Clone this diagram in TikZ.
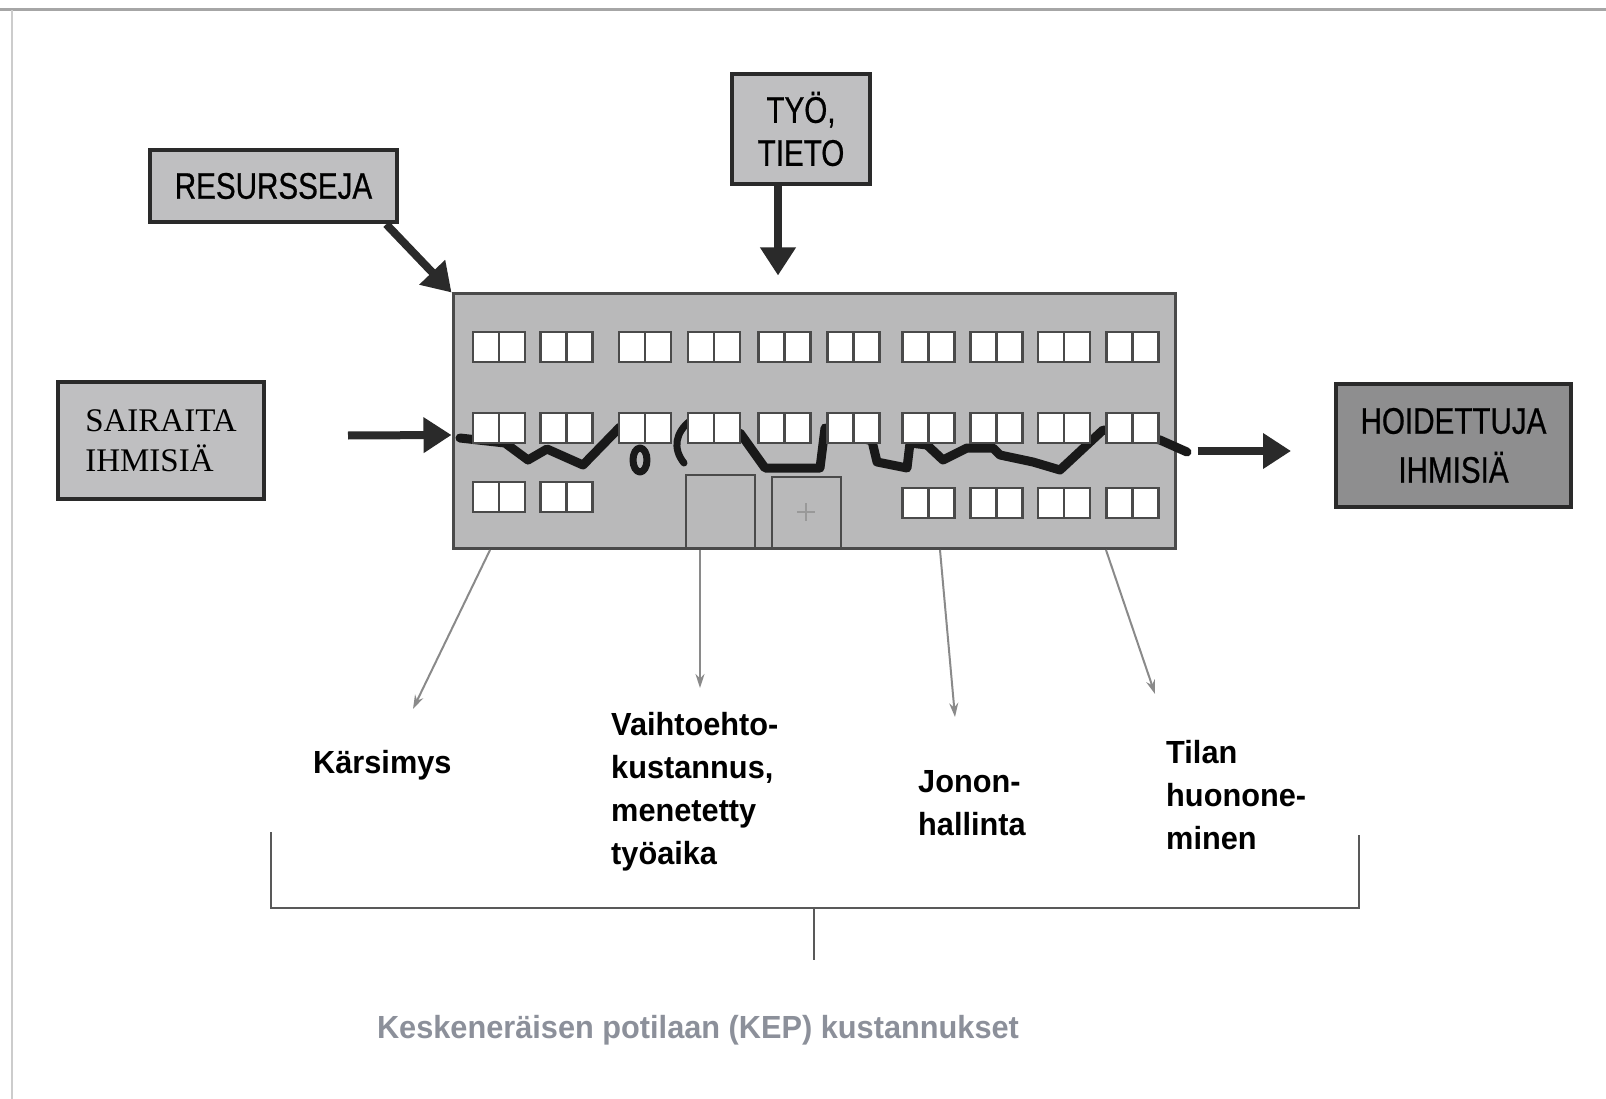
\documentclass[tikz,border=0pt]{standalone}
\usepackage{fontspec}
\usetikzlibrary{arrows.meta}
\newfontfamily\boxfont[FakeStretch=0.8,FakeBold=0.6]{Liberation Sans}
\newfontfamily\labfont[FakeStretch=0.96]{Liberation Sans}
\newfontfamily\oldfont{Liberation Serif}
\definecolor{boxgray}{HTML}{BFBFC1}
\definecolor{darkbox}{HTML}{8E8E8F}
\definecolor{wallgray}{HTML}{B9B9BA}
\definecolor{edge}{HTML}{2A2A2A}
\definecolor{wallline}{HTML}{4A4A4A}
\definecolor{thingray}{HTML}{8A8A8A}
\definecolor{notegray}{HTML}{8C909A}
\tikzset{
  inbox/.style={draw=edge, line width=4.5pt, fill=boxgray, inner sep=0pt,
    font=\boxfont\fontsize{37}{43}\selectfont, align=center},
  heavyarrow/.style={draw=edge, line width=8pt,
    -{Triangle[length=28pt,width=34pt]}},
  lightarrow/.style={draw=thingray, line width=2pt,
    -{Stealth[length=14pt,width=9pt]}},
  lab/.style={font=\labfont\bfseries\fontsize{32}{43}\selectfont, align=left,
    inner sep=0pt},
  winline/.style={draw=edge!85, line width=2.5pt},
  winpair/.pic={
    \draw[winline, fill=white] (0,0) rectangle (52,30);
    \draw[winline] (26,0) -- (26,30);
  },
  wave/.style={draw=black!90, line width=9pt, line join=round, line cap=round},
  bracket/.style={draw=black!65, line width=2pt},
}
\begin{document}
\begin{tikzpicture}[x=1pt,y=-1pt]
\useasboundingbox (0,0) rectangle (1606,1099);
% page frame
\draw[draw=black!35, line width=3pt] (0,10) -- (1606,10);
\draw[draw=black!20, line width=2pt] (12,10) -- (12,1099);

% input / output boxes
\node[inbox, minimum width=247pt, minimum height=72pt] (res) at (273.5,186) {RESURSSEJA};
\node[inbox, minimum width=138pt, minimum height=110pt] (tyo) at (801,129) {TYÖ,\\TIETO};
\node[inbox, line width=4pt, minimum width=206pt, minimum height=117pt, align=left,
  font=\oldfont\fontsize{33}{40}\selectfont] (sick) at (161,440.5) {SAIRAITA\\IHMISIÄ};
\node[inbox, fill=darkbox, line width=4pt, minimum width=235pt, minimum height=123pt,
  font=\boxfont\fontsize{37}{49}\selectfont] (cured) at (1453.5,445.5) {HOIDETTUJA\\IHMISIÄ};

% hospital building
\node[draw=wallline, line width=3pt, fill=wallgray, minimum width=722pt,
  minimum height=254pt, inner sep=0pt] (bldg) at (814,421) {};

% doors
\draw[draw=wallline, line width=2pt] (686,547) -- (686,475) -- (755,475) -- (755,547);
\draw[draw=wallline, line width=2pt] (772,548) -- (772,477) -- (841,477) -- (841,548);
\draw[draw=black!40, line width=2pt] (806,503) -- (806,521) (797,512) -- (815,512);

% patient path through the wards
\draw[wave] (460,438) -- (505,443) -- (528,460) -- (547,449) -- (583,465) -- (620,427);
\draw[wave, line width=7pt] (640,460) ellipse [x radius=7, y radius=12];
\draw[wave, line width=7pt] (690,421) .. controls (676,432) and (672,448) .. (684,463);
\draw[wave] (700,430) -- (740,433) -- (765,468) -- (820,468) -- (825,428)
  -- (872,441) -- (877,462) -- (907,468) -- (910,443) -- (927,445) -- (943,460)
  -- (967,448) -- (993,448) -- (1000,455) -- (1033,462) -- (1060,470)
  -- (1103,430) -- (1160,440) -- (1187,452);

% windows
\foreach \c in {473,540.5,619,688,758.5,827.5,902.5,970.5,1038,1106.5} {
  \pic at (\c,332) {winpair};
  \pic at (\c,413) {winpair};
}
\foreach \c in {473,540.5} { \pic at (\c,482) {winpair}; }
\foreach \c in {902.5,970.5,1038,1106.5} { \pic at (\c,488) {winpair}; }

% flows into and out of the building
\draw[heavyarrow] ([xshift=-13pt]res.south east) -- (bldg.north west);
\draw[heavyarrow] ([xshift=-23pt]tyo.south) -- ([xshift=-36pt,yshift=17pt]bldg.north);
\draw[heavyarrow] ([xshift=82pt,yshift=5pt]sick.east) -- ([yshift=-14pt]bldg.west);
\draw[heavyarrow] ([xshift=21pt,yshift=-30pt]bldg.east) -- ([xshift=-43pt,yshift=-5.5pt]cured.west);

% cost labels (anchored at the baseline of their last line)
\node[lab, anchor=base west] (suff) at (313,773) {Kärsimys};
\node[lab, anchor=base west] (opp) at (611,864) {Vaihtoehto-\\kustannus,\\menetetty\\työaika};
\node[lab, anchor=base west] (queue) at (918,835) {Jonon-\\hallinta};
\node[lab, anchor=base west] (worse) at (1166,849) {Tilan\\huonone-\\minen};

% thin arrows from the building to the costs
\coordinate (s1) at (490,550);  \coordinate (t1) at (413,709);
\coordinate (s2) at (700,550);  \coordinate (t2) at (700,688);
\coordinate (s3) at (940,550);  \coordinate (t3) at (955,717);
\coordinate (s4) at (1106,550); \coordinate (t4) at (1155,694);
\draw[lightarrow] (s1) -- (t1);
\draw[lightarrow] (s2) -- (t2);
\draw[lightarrow] (s3) -- (t3);
\draw[lightarrow] (s4) -- (t4);

% grouping bracket
\draw[bracket] (271,832) -- (271,908) -- (1359,908) -- (1359,835);
\draw[bracket] (814,908) -- (814,960);
\node[anchor=base, inner sep=0pt, text=notegray,
  font=\labfont\bfseries\fontsize{32}{38}\selectfont] (kep) at (698,1038)
  {Keskeneräisen potilaan (KEP) kustannukset};
\end{tikzpicture}
\end{document}
